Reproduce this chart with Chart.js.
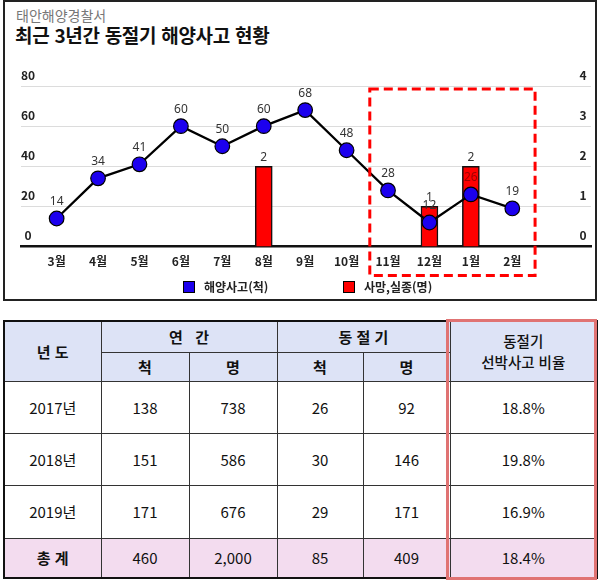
<!DOCTYPE html>
<html lang="ko">
<head>
<meta charset="utf-8">
<script src="https://cdn.jsdelivr.net/npm/chart.js@4.4.1/dist/chart.umd.min.js"></script>
<style>
  body { margin: 0; background: #fff; font-family: "Noto Sans CJK KR", "Noto Sans", sans-serif; }
  #page { position: relative; width: 600px; height: 584px; overflow: hidden; }
  #panel { position: absolute; left: 3px; top: 0; width: 594px; height: 301px; box-sizing: border-box; border: 2px solid #222; }
  #sub { position: absolute; left: 16px; top: 5px; font-size: 14px; color: #777; }
  #title { position: absolute; left: 15px; top: 21px; font-size: 19px; font-weight: bold; color: #111; letter-spacing: -0.3px; }
  #chart { position: absolute; left: 0; top: 60px; }
  .leg { position: absolute; top: 279px; font-size: 12px; font-weight: bold; color: #222; line-height: 16px; }
  .leg span { display: inline-block; width: 10px; height: 10px; border: 1px solid #000; vertical-align: -1px; margin-right: 9px; }
  table { position: absolute; left: 3px; top: 320px; width: 593px; border-collapse: collapse; table-layout: fixed; border: 2px solid #111; }
  td, th { border: 1.5px solid #333; text-align: center; padding: 0; font-size: 15px; color: #111; font-weight: normal; }
  th { background: #dde3f6; font-weight: bold; font-size: 15px; }
  th.ratio { font-weight: 500; font-size: 14.5px; line-height: 21px; }
  tr.total td { background: #f3dcef; }
  tr.total td.lbl { font-weight: bold; }
  #mark { position: absolute; left: 446px; top: 319px; width: 151px; height: 261px; box-sizing: border-box; border: 3px solid #e07373; }
</style>
</head>
<body>
<div id="page">
  <div id="panel"></div>
  <div id="sub">태안해양경찰서</div>
  <div id="title">최근 3년간 동절기 해양사고 현황</div>
  <canvas id="chart" width="600" height="220" style="width:600px;height:220px"></canvas>
  <div id="legend"></div>

  <table>
    <colgroup>
      <col style="width:97px"><col style="width:88px"><col style="width:88px">
      <col style="width:86px"><col style="width:87px"><col style="width:147px">
    </colgroup>
    <tr style="height:31px">
      <th rowspan="2">년 도</th>
      <th colspan="2">연 &nbsp; 간</th>
      <th colspan="2">동 절 기</th>
      <th rowspan="2" class="ratio">동절기<br>선박사고 비율</th>
    </tr>
    <tr style="height:29px">
      <th>척</th><th>명</th><th>척</th><th>명</th>
    </tr>
    <tr style="height:52px"><td>2017년</td><td>138</td><td>738</td><td>26</td><td>92</td><td>18.8%</td></tr>
    <tr style="height:52px"><td>2018년</td><td>151</td><td>586</td><td>30</td><td>146</td><td>19.8%</td></tr>
    <tr style="height:53px"><td>2019년</td><td>171</td><td>676</td><td>29</td><td>171</td><td>16.9%</td></tr>
    <tr style="height:40px" class="total"><td class="lbl">총 계</td><td>460</td><td>2,000</td><td>85</td><td>409</td><td>18.4%</td></tr>
  </table>
  <div id="mark"></div>
</div>

<script>
// 월별 데이터
const months = ['3월', '4월', '5월', '6월', '7월', '8월', '9월', '10월', '11월', '12월', '1월', '2월'];
const accidents = [14, 34, 41, 60, 50, 60, 68, 48, 28, 12, 26, 19];   // 해양사고(척)
const casualties = [null, null, null, null, null, 2, null, null, null, 1, 2, null]; // 사망,실종(명)
const leftTicks = [0, 20, 40, 60, 80];
const rightTicks = [0, 1, 2, 3, 4];

const blue = '#1c00ee';
const red = '#ff0000';

Chart.defaults.font.family = '"Noto Sans CJK KR", "Noto Sans", sans-serif';
Chart.defaults.color = '#222';

// 값 라벨 + 오른쪽 축 눈금 (차트 영역 안쪽)
const valueLabels = {
  id: 'valueLabels',
  afterDatasetsDraw(chart) {
    const {ctx, chartArea, scales: {y2}} = chart;
    const bars = chart.getDatasetMeta(1).data;
    ctx.save();
    ctx.textAlign = 'center';
    ctx.textBaseline = 'middle';

    ctx.font = 'bold 12px "Noto Sans CJK KR", "Noto Sans", sans-serif';
    ctx.fillStyle = '#222';
    y2.ticks.forEach(t => {
      ctx.fillText(t.value, chartArea.right - 8, y2.getPixelForValue(t.value) - 11);
    });

    ctx.font = '12px "Noto Sans", sans-serif';
    bars.forEach((bar, i) => {
      if (casualties[i] == null) return;
      ctx.fillStyle = '#333';
      ctx.fillText(casualties[i], bar.x, bar.y - 9);
    });
    chart.getDatasetMeta(0).data.forEach((pt, i) => {
      const y = pt.y - 17;
      const bar = bars[i];
      const inBar = casualties[i] != null && y > bar.y;
      ctx.fillStyle = inBar ? '#a00000' : '#333';
      ctx.fillText(accidents[i], pt.x, y);
    });
    ctx.restore();
  }
};

// 동절기 강조 점선 박스
const winterBox = {
  id: 'winterBox',
  afterDatasetsDraw(chart) {
    const {ctx, scales: {x, y}} = chart;
    const x1 = x.getPixelForValue(months.indexOf('11월') - 0.44);
    const x2 = x.getPixelForValue(months.length - 1 + 0.55);
    const y1 = y.getPixelForValue(78.5);
    const y2 = y.getPixelForValue(-14.4);
    ctx.save();
    ctx.strokeStyle = red;
    ctx.lineWidth = 3;
    ctx.setLineDash([9, 5]);
    ctx.strokeRect(x1, y1, x2 - x1, y2 - y1);
    ctx.restore();
  }
};

const chart = new Chart(document.getElementById('chart'), {
  data: {
    datasets: [{
      type: 'line',
      label: '해양사고(척)',
      data: accidents.map((v, i) => ({x: i, y: v})),
      yAxisID: 'y',
      borderColor: '#000',
      borderWidth: 2.3,
      pointRadius: 7.3,
      pointBackgroundColor: blue,
      pointBorderColor: '#000',
      pointBorderWidth: 1.2,
      order: 0
    }, {
      type: 'bar',
      label: '사망,실종(명)',
      data: casualties.map((v, i) => ({x: i, y: v})),
      yAxisID: 'y2',
      backgroundColor: red,
      borderColor: '#111',
      borderWidth: 1.5,
      barThickness: 17,
      order: 1
    }]
  },
  options: {
    responsive: false,
    animation: false,
    layout: { autoPadding: false, padding: { left: 21, right: 9, top: 26, bottom: 3 } },
    plugins: { legend: { display: false }, tooltip: { enabled: false } },
    scales: {
      x: {
        type: 'linear',
        min: -0.86,
        max: 12.9,
        offset: false,
        afterBuildTicks: s => { s.ticks = months.map((m, i) => ({value: i})); },
        ticks: {
          callback: v => months[v],
          font: { size: 12, weight: 'bold' },
          padding: 8,
          autoSkip: false,
          maxRotation: 0
        },
        grid: { display: false, offset: false, drawTicks: false },
        border: { display: true, color: '#111', width: 2.5 }
      },
      y: {
        position: 'left',
        min: 0,
        max: 80,
        afterBuildTicks: s => { s.ticks = leftTicks.map(v => ({value: v})); },
        ticks: { mirror: true, padding: 0, crossAlign: 'center', labelOffset: -11, font: { size: 12, weight: 'bold' } },
        grid: { color: '#dcdcdc', lineWidth: 1, drawTicks: false },
        border: { display: false }
      },
      y2: {
        position: 'right',
        min: 0,
        max: 4,
        afterBuildTicks: s => { s.ticks = rightTicks.map(v => ({value: v})); },
        ticks: { display: false },
        grid: { display: false, drawTicks: false },
        border: { display: false }
      }
    }
  },
  plugins: [valueLabels, winterBox]
});

// 범례
const legendPos = [183, 343];
const legendColors = [blue, red];
document.getElementById('legend').innerHTML = chart.data.datasets.map((ds, i) =>
  `<div class="leg" style="left:${legendPos[i]}px"><span style="background:${legendColors[i]}"></span>${ds.label}</div>`
).join('');
</script>
</body>
</html>
